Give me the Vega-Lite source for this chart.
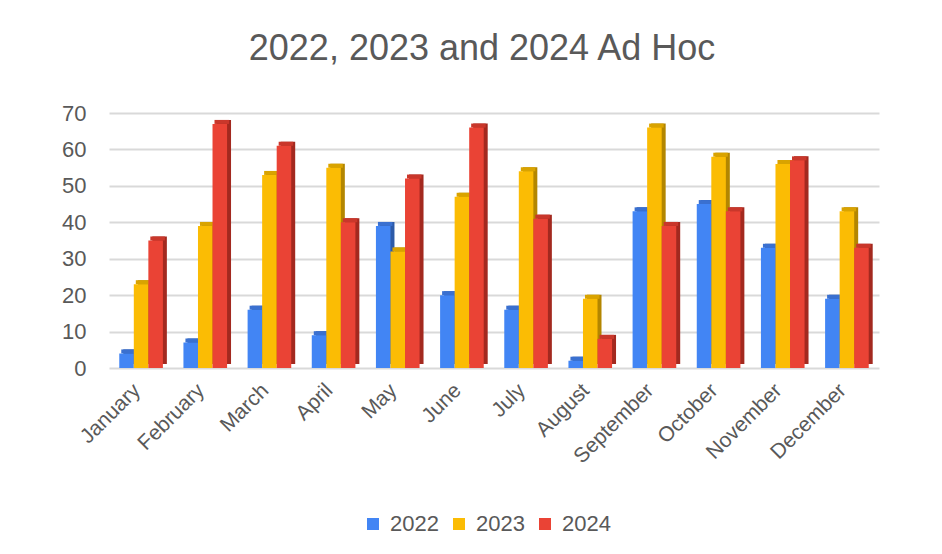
{
  "$schema": "https://vega.github.io/schema/vega-lite/v6.json",
  "width": 770,
  "height": 255,
  "autosize": {"type": "none"},
  "padding": {"left": 109, "top": 113, "right": 63, "bottom": 186},
  "background": "white",
  "config": {"view": {"stroke": null}, "font": "Liberation Sans"},
  "title": {"text": "2022, 2023 and 2024 Ad Hoc", "fontSize": 36, "font": "Liberation Sans", "fontWeight": "normal", "color": "#595959", "frame": "group", "anchor": "middle", "dx": -12, "offset": 34},
  "data": {"values": [
    {"month": "January", "year": "2022", "value": 4},
    {"month": "January", "year": "2023", "value": 23},
    {"month": "January", "year": "2024", "value": 35},
    {"month": "February", "year": "2022", "value": 7},
    {"month": "February", "year": "2023", "value": 39},
    {"month": "February", "year": "2024", "value": 67},
    {"month": "March", "year": "2022", "value": 16},
    {"month": "March", "year": "2023", "value": 53},
    {"month": "March", "year": "2024", "value": 61},
    {"month": "April", "year": "2022", "value": 9},
    {"month": "April", "year": "2023", "value": 55},
    {"month": "April", "year": "2024", "value": 40},
    {"month": "May", "year": "2022", "value": 39},
    {"month": "May", "year": "2023", "value": 32},
    {"month": "May", "year": "2024", "value": 52},
    {"month": "June", "year": "2022", "value": 20},
    {"month": "June", "year": "2023", "value": 47},
    {"month": "June", "year": "2024", "value": 66},
    {"month": "July", "year": "2022", "value": 16},
    {"month": "July", "year": "2023", "value": 54},
    {"month": "July", "year": "2024", "value": 41},
    {"month": "August", "year": "2022", "value": 2},
    {"month": "August", "year": "2023", "value": 19},
    {"month": "August", "year": "2024", "value": 8},
    {"month": "September", "year": "2022", "value": 43},
    {"month": "September", "year": "2023", "value": 66},
    {"month": "September", "year": "2024", "value": 39},
    {"month": "October", "year": "2022", "value": 45},
    {"month": "October", "year": "2023", "value": 58},
    {"month": "October", "year": "2024", "value": 43},
    {"month": "November", "year": "2022", "value": 33},
    {"month": "November", "year": "2023", "value": 56},
    {"month": "November", "year": "2024", "value": 57},
    {"month": "December", "year": "2022", "value": 19},
    {"month": "December", "year": "2023", "value": 43},
    {"month": "December", "year": "2024", "value": 33}
  ]},
  "encoding": {
    "x": {
      "field": "month", "type": "nominal",
      "sort": ["January", "February", "March", "April", "May", "June", "July", "August", "September", "October", "November", "December"],
      "scale": {"paddingInner": 0.32, "paddingOuter": 0.16},
      "axis": {"title": null, "labelAngle": -45, "labelAlign": "right", "labelBaseline": "middle", "labelFontSize": 21, "labelColor": "#595959", "labelFont": "Liberation Sans", "ticks": false, "domain": false, "labelPadding": 19, "labelOffset": -4, "grid": false}
    },
    "y": {
      "field": "value", "type": "quantitative",
      "scale": {"domain": [0, 70]},
      "axis": {"title": null, "values": [0, 10, 20, 30, 40, 50, 60, 70], "labelFontSize": 22, "labelColor": "#595959", "labelFont": "Liberation Sans", "ticks": false, "tickSize": 0, "domain": false, "labelPadding": 23, "gridColor": "#d9d9d9", "gridWidth": 2}
    }
  },
  "layer": [
    {
      "mark": {"type": "bar", "yOffset": -4, "y2Offset": -4},
      "encoding": {
        "xOffset": {"field": "year", "type": "nominal", "scale": {"range": [4, 47.6], "paddingInner": 0, "paddingOuter": 0}},
        "color": {"field": "year", "type": "nominal", "scale": {"range": ["#2c5aa8", "#b38600", "#a3291f"]}, "legend": null}
      }
    },
    {
      "mark": {"type": "bar", "yOffset": -4},
      "encoding": {
        "y2": {"field": "value"},
        "xOffset": {"field": "year", "type": "nominal", "scale": {"range": [2, 45.6], "paddingInner": 0, "paddingOuter": 0}},
        "color": {"field": "year", "type": "nominal", "scale": {"range": ["#3a70d0", "#d9a300", "#c9372b"]}, "legend": null}
      }
    },
    {
      "mark": {"type": "bar"},
      "encoding": {
        "xOffset": {"field": "year", "type": "nominal", "scale": {"paddingInner": 0, "paddingOuter": 0}},
        "color": {"field": "year", "type": "nominal", "scale": {"range": ["#4285F4", "#FBBC04", "#EA4335"]},
          "legend": {"title": null, "orient": "none", "legendX": 253, "legendY": 400, "direction": "horizontal", "symbolType": "square", "symbolSize": 144, "symbolStrokeWidth": 0, "labelFontSize": 22, "labelColor": "#595959", "labelFont": "Liberation Sans", "columnPadding": 9, "labelOffset": 6}}
      }
    }
  ],
  "resolve": {"scale": {"color": "independent", "xOffset": "independent"}}
}
